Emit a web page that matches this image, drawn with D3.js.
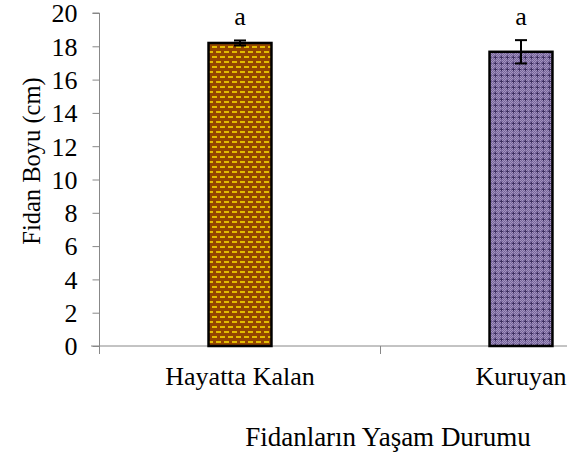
<!DOCTYPE html>
<html><head><meta charset="utf-8">
<script src="https://cdn.jsdelivr.net/npm/d3@7"></script>
<style>body{margin:0;background:#fff}svg{display:block}</style>
</head><body><svg id="c" width="567" height="454"></svg>
<script>
const categories = ["Hayatta Kalan", "Kuruyan"];
const values = [18.2, 17.67];
const errors = [0.15, 0.7];
const letters = ["a", "a"];
const yTicks = [0, 2, 4, 6, 8, 10, 12, 14, 16, 18, 20];
const yTitle = "Fidan Boyu (cm)";
const xTitle = "Fidanların Yaşam Durumu";

const FONT = "'Times New Roman', 'Liberation Serif', 'DejaVu Serif', serif";
const FS = 26;
const svg = d3.select("#c").style("font-family", FONT);
const defs = svg.append("defs");
// pattern 1: brown with yellow dashes
const p1 = defs.append("pattern").attr("id","p1").attr("patternUnits","userSpaceOnUse")
  .attr("width",8).attr("height",10);
p1.append("rect").attr("width",8).attr("height",10).attr("fill","#934500");
p1.append("rect").attr("x",0).attr("y",1).attr("width",5).attr("height",2).attr("fill","#e2bc00");
p1.append("rect").attr("x",4).attr("y",6).attr("width",5).attr("height",2).attr("fill","#e2bc00");
p1.append("rect").attr("x",-4).attr("y",6).attr("width",5).attr("height",2).attr("fill","#e2bc00");
// pattern 2: purple checker dots
const p2 = defs.append("pattern").attr("id","p2").attr("patternUnits","userSpaceOnUse")
  .attr("width",6).attr("height",6);
p2.append("rect").attr("width",6).attr("height",6).attr("fill","#76659a");
[[0,0],[2,0],[4,0],[1,1],[5,1],[0,2],[4,2],[1,5],[5,5],[0,4],[2,4],[4,4]].forEach(([x,y])=>{
  p2.append("rect").attr("x",x).attr("y",y).attr("width",1).attr("height",1).attr("fill","#a494c0");
});
[[3,2],[2,3],[3,3],[4,3],[3,4]].forEach(([x,y])=>{
  p2.append("rect").attr("x",x).attr("y",y).attr("width",1).attr("height",1).attr("fill","#3e3060");
});
const fills = ["url(#p1)", "url(#p2)"];

const x0 = 99.5, x1 = 661.5;
const y = d3.scaleLinear().domain([0,20]).range([346, 13]);
const x = d3.scaleBand().domain(categories).range([x0, x1]);

// y axis
const yAxis = svg.append("g").attr("transform",`translate(${x0},0)`)
  .call(d3.axisLeft(y).tickValues(yTicks).tickSize(7).tickPadding(15));
yAxis.attr("font-family",FONT).attr("font-size",FS);
yAxis.select(".domain").attr("stroke","#888").attr("d",`M-7,${y(20)}H0V${y(0)}`);
yAxis.selectAll(".tick line").attr("stroke","#888");
yAxis.selectAll("text").attr("fill","#000").attr("dy","0.34em");

// x axis
const xAxis = svg.append("g").attr("transform",`translate(0,${y(0)})`)
  .call(d3.axisBottom(x).tickSize(0).tickPadding(21));
xAxis.attr("font-family",FONT).attr("font-size",FS);
xAxis.select(".domain").attr("stroke","#888").attr("d",`M91,0H${x1}`);
xAxis.selectAll("text").attr("fill","#000");
// category boundary ticks
const bounds = [x0, x0 + x.bandwidth(), x1];
svg.append("g").selectAll("line").data(bounds).join("line")
  .attr("x1",d=>d).attr("x2",d=>d).attr("y1",y(0)).attr("y2",y(0)+8).attr("stroke","#888");

// bars
const bw = x.bandwidth()*0.224;
const cx = d => x(d) + x.bandwidth()/2;
svg.append("g").selectAll("rect").data(categories).join("rect")
  .attr("x",d=>cx(d)-bw/2).attr("y",(d,i)=>y(values[i]))
  .attr("width",bw).attr("height",(d,i)=>y(0)-y(values[i]))
  .attr("fill",(d,i)=>fills[i]).attr("stroke","#000").attr("stroke-width",2.5);

// error bars
const eg = svg.append("g").attr("stroke","#000").attr("stroke-width",2);
categories.forEach((c,i)=>{
  const t = y(values[i]+errors[i]), b = y(values[i]-errors[i]);
  eg.append("line").attr("x1",cx(c)).attr("x2",cx(c)).attr("y1",t).attr("y2",b);
  eg.append("line").attr("x1",cx(c)-6).attr("x2",cx(c)+6).attr("y1",t).attr("y2",t);
  eg.append("line").attr("x1",cx(c)-6).attr("x2",cx(c)+6).attr("y1",b).attr("y2",b);
});

// letters
svg.append("g").attr("font-family",FONT).selectAll("text").data(categories).join("text")
  .attr("x",d=>cx(d)).attr("y",25).attr("text-anchor","middle").attr("font-size",FS)
  .text((d,i)=>letters[i]);

// titles
svg.append("text").attr("font-family",FONT).attr("transform","translate(31,161) rotate(-90)").attr("text-anchor","middle")
  .attr("dy","0.35em").attr("font-size",24.5).text(yTitle);
svg.append("text").attr("font-family",FONT).attr("x",388).attr("y",446).attr("text-anchor","middle").attr("font-size",27).text(xTitle);
</script></body></html>
